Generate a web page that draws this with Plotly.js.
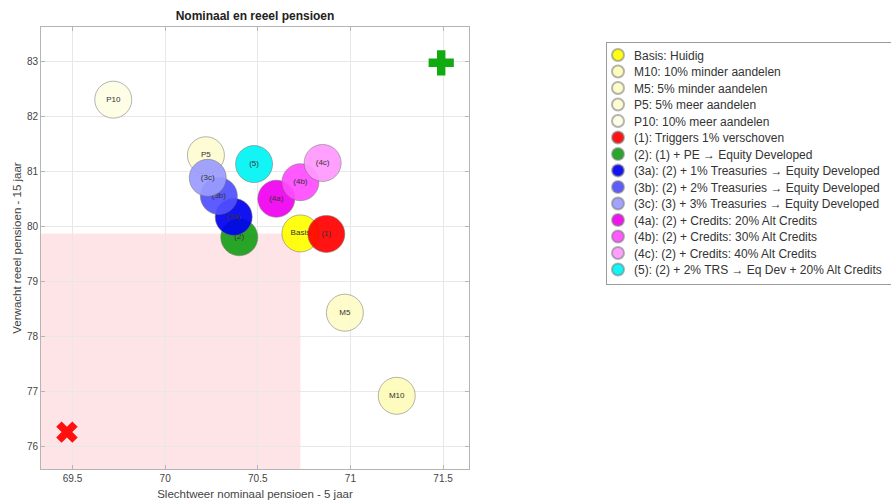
<!DOCTYPE html>
<html>
<head>
<meta charset="utf-8">
<script src="https://cdn.plot.ly/plotly-3.0.1.min.js"></script>
<style>body{margin:0;background:#fff;}#chart{width:891px;height:501px;}</style>
</head>
<body>
<div id="chart"></div>
<script>
// ---- data ----
const names = [
  "Basis: Huidig",
  "M10: 10% minder aandelen",
  "M5: 5% minder aandelen",
  "P5: 5% meer aandelen",
  "P10: 10% meer aandelen",
  "(1): Triggers 1% verschoven",
  "(2): (1) + PE \u2192 Equity Developed",
  "(3a): (2) + 1% Treasuries \u2192 Equity Developed",
  "(3b): (2) + 2% Treasuries \u2192 Equity Developed",
  "(3c): (3) + 3% Treasuries \u2192 Equity Developed",
  "(4a): (2) + Credits: 20% Alt Credits",
  "(4b): (2) + Credits: 30% Alt Credits",
  "(4c): (2) + Credits: 40% Alt Credits",
  "(5): (2) + 2% TRS \u2192 Eq Dev + 20% Alt Credits"
];
const labels = ["Basis","M10","M5","P5","P10","(1)","(2)","(3a)","(3b)","(3c)","(4a)","(4b)","(4c)","(5)"];
const nominal = [70.73, 71.25, 70.97, 70.22, 69.72, 70.87, 70.40, 70.37, 70.29, 70.23, 70.60, 70.73, 70.85, 70.48];
const real    = [79.87, 76.92, 78.43, 81.29, 82.30, 79.86, 79.80, 80.17, 80.55, 80.88, 80.50, 80.80, 81.15, 81.13];
const colors  = ["#ffff00","#fdfbb8","#fdfcc6","#fdfcd2","#fefde4","#ff0000","#16a016","#0000f0","#5050ff","#9a9cff","#f000f0","#ff4cff","#ff99ff","#00f5f5"];
const ideal = {x: [71.49], y: [82.97]};
const worst = {x: [69.47], y: [76.26]};
const xRange = [69.33, 71.64];
const yRange = [75.59, 83.62];
const xTicks = [69.5, 70, 70.5, 71, 71.5];
const yTicks = [76, 77, 78, 79, 80, 81, 82, 83];

// ---- traces ----
const traces = names.map((n, i) => ({
  type: "scatter",
  mode: "markers+text",
  name: n,
  x: [nominal[i]],
  y: [real[i]],
  text: [labels[i]],
  textposition: "middle center",
  textfont: {family: "Liberation Sans, Arial, sans-serif", size: 8, color: "#333"},
  marker: {size: 37, color: colors[i], opacity: 0.92,
           line: {width: 1, color: "rgba(110,110,110,0.55)"}},
  hoverinfo: "x+y+name"
}));
traces.push({
  type: "scatter", mode: "markers", x: ideal.x, y: ideal.y, showlegend: false,
  marker: {symbol: "cross", size: 21, color: "#11aa11", line: {width: 0}}
});
traces.push({
  type: "scatter", mode: "markers", x: worst.x, y: worst.y, showlegend: false,
  marker: {symbol: "x", size: 19, color: "#ff1010", line: {width: 0}}
});

const font = "Liberation Sans, Arial, sans-serif";
const axisCommon = {
  showgrid: true, gridcolor: "#e8e8e8", gridwidth: 1,
  zeroline: false, showline: true, linecolor: "#b5b5b5", linewidth: 1, mirror: "ticks",
  ticks: "inside", ticklen: 4, tickcolor: "#b5b5b5",
  tickfont: {family: font, size: 10, color: "#444"}
};

const layout = {
  width: 891, height: 501,
  margin: {l: 41, r: 422, t: 27, b: 32, autoexpand: false},
  paper_bgcolor: "#fff", plot_bgcolor: "#fff",
  title: {text: "<b>Nominaal en reeel pensioen</b>", font: {family: font, size: 12, color: "#222"},
          x: (41 + 214) / 891, xanchor: "center", y: 1 - 16 / 501, yanchor: "middle", xref: "container", yref: "container"},
  xaxis: Object.assign({}, axisCommon, {
    range: xRange, tickvals: xTicks, ticktext: xTicks.map(String), automargin: false,
    title: {text: "Slechtweer nominaal pensioen - 5 jaar", font: {family: font, size: 11.5, color: "#444"}, standoff: 6}
  }),
  yaxis: Object.assign({}, axisCommon, {
    range: yRange, tickvals: yTicks, ticktext: yTicks.map(String), automargin: false,
    title: {text: "Verwacht reeel pensioen - 15 jaar", font: {family: font, size: 11.5, color: "#444"}, standoff: 2}
  }),
  shapes: [{
    type: "rect", xref: "x", yref: "y", layer: "below",
    x0: xRange[0], x1: nominal[0], y0: yRange[0], y1: real[0],
    fillcolor: "rgba(250,120,130,0.2)", line: {width: 0}
  }],
  legend: {
    x: (606 - 41) / 428, y: (469 - 42) / 442, xanchor: "left", yanchor: "top",
    bgcolor: "#fff", bordercolor: "#9a9a9a", borderwidth: 1,
    font: {family: font, size: 12, color: "#333"},
    itemsizing: "constant", tracegroupgap: 0
  },
  showlegend: true
};

Plotly.newPlot("chart", traces, layout, {displayModeBar: false, staticPlot: true}).then(gd => {
  // tighten legend rows to the reference spacing
  const rowGap = 16.5, firstRow = 13, shiftX = -9;
  const items = gd.querySelectorAll("g.legend g.traces");
  items.forEach((g, i) => {
    const m = /translate\(\s*([-\d.]+)[ ,]+([-\d.]+)/.exec(g.getAttribute("transform") || "");
    const x0 = m ? parseFloat(m[1]) : 0;
    g.setAttribute("transform", `translate(${x0 + shiftX},${firstRow + i * rowGap})`);
    const t = g.querySelector("text.legendtext");
    if (t) t.setAttribute("x", parseFloat(t.getAttribute("x")) - 4);
  });
  const bg = gd.querySelector("g.legend rect.bg");
  if (bg) {
    bg.setAttribute("height", firstRow + (items.length - 1) * rowGap + 14);
    bg.setAttribute("width", 320);
  }
  const clip = document.querySelectorAll("clipPath[id*='legend'] rect");
  clip.forEach(r => { r.setAttribute("width", 320); r.setAttribute("height", 300); });
});
</script>
</body>
</html>
